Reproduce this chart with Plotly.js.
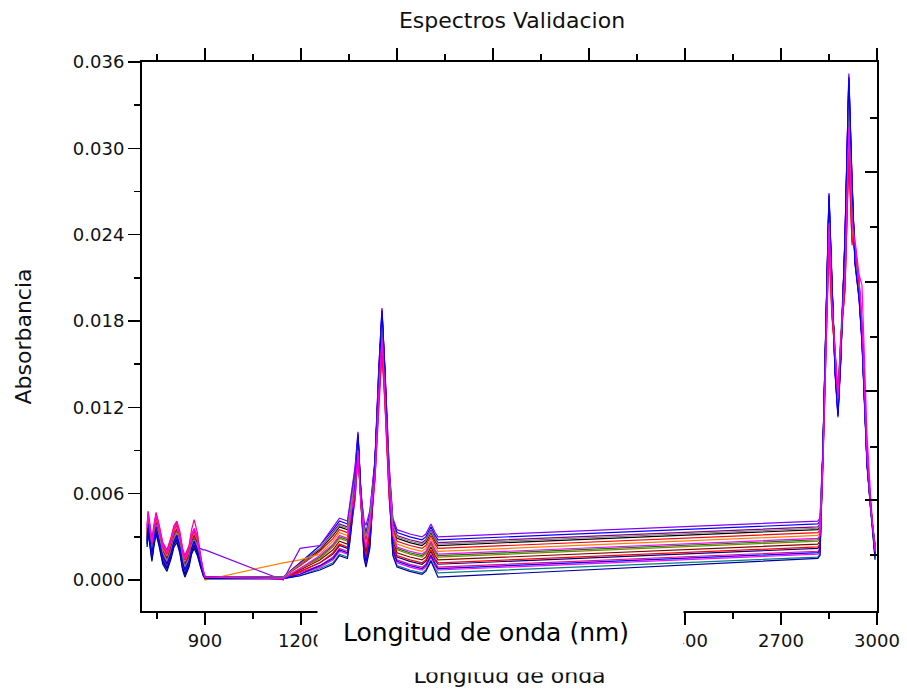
<!DOCTYPE html>
<html>
<head>
<meta charset="utf-8">
<script src="https://cdn.plot.ly/plotly-3.0.1.min.js"></script>
<style>html,body{margin:0;padding:0;background:#fff;}#chart{width:907px;height:693px;}</style>
</head>
<body>
<div id="chart"></div>
<script>
// Wavelength (nm) sample positions shared by every spectrum
const wavelength = [719,722,727,734,740,747,756,768,781,794,803,812,821,830,837,850,858,866,876,886,894,900,
  1144,1197,1259,1300,1320,1345,1353,1369,1378,1387,1397,1403,1415,1431,1443,1453,1462,1475,1487,1500,1540,1578,1590,1606,1619,1628,
  2815,2822,2831,2840,2850,2859,2869,2878,2887,2900,2912,2922,2931,2944,2953,2969,2981,2994];

// Absorbance values in units of 1e-4
const s01 = [30,40,32,20,30,39,31,18,13,22,30,33,26,14,9,16,25,29,24,12,5,2,
  2,11,21,31,37,35,47,73,98,59,35,29,42,80,142,182,142,75,37,29,26,24,26,33,27,24,
  35,37,88,178,258,201,152,122,162,224,330,261,225,200,170,82,48,22];
const s02 = [33,43,35,23,33,42,34,21,16,25,33,36,29,17,12,19,28,32,27,14,6,2,
  2,10,20,29,35,33,45,67,92,55,33,27,40,70,125,160,125,65,35,27,24,22,24,31,25,22,
  33,35,82,166,240,187,155,125,165,204,300,237,230,205,175,86,50,20];
const s03 = [28,38,30,18,28,37,29,16,11,20,28,31,24,12,7,14,23,27,22,11,5,2,
  1,8,16,24,30,28,40,67,95,57,28,22,35,77,137,175,137,68,30,22,19,17,19,26,20,17,
  28,30,87,176,255,199,148,118,158,228,335,265,230,205,175,84,49,18];
const s04 = [26,36,28,16,26,35,27,14,9,18,26,29,22,10,5,12,21,25,20,10,4,2,
  2,12,24,35,41,39,51,77,102,61,39,33,46,83,147,188,147,79,41,33,30,28,30,37,31,28,
  39,41,91,185,268,209,145,115,155,238,350,277,220,195,165,79,47,24];
const s05 = [24,34,26,14,24,33,25,12,7,16,24,27,20,8,3,10,19,23,18,9,4,1,
  1,3,8,12,18,16,28,57,90,54,16,10,23,78,139,178,139,63,18,10,7,5,7,14,8,5,
  16,18,89,181,262,204,158,128,168,230,338,267,225,200,170,82,46,15];
const s06 = [37,47,39,27,37,46,38,25,20,29,37,40,33,21,16,23,32,36,31,16,7,2,
  1,4,9,14,20,18,30,57,88,53,18,12,25,75,133,170,133,61,20,12,9,7,9,16,10,7,
  18,20,85,173,250,195,155,125,165,218,320,253,237,212,205,100,55,17];
const s07 = [31,41,33,21,31,40,32,19,14,23,31,34,27,15,10,17,26,30,25,12,5,2,
  1,8,15,23,29,27,39,66,94,56,27,21,34,77,137,176,137,69,29,21,18,16,18,25,19,16,
  27,29,86,175,254,198,150,120,160,223,328,259,228,203,173,83,49,19];
const s08 = [25,35,27,15,25,34,26,13,8,17,25,28,21,9,4,11,20,24,19,10,4,1,
  1,6,12,18,24,22,34,67,100,60,22,16,29,82,145,186,145,70,24,16,13,11,13,20,14,11,
  22,24,90,184,266,207,147,117,157,237,348,275,223,198,168,81,48,21];
const s09 = [32,42,34,22,32,41,33,20,15,24,32,35,28,16,11,18,27,31,26,13,6,2,
  2,12,22,33,39,37,49,73,97,58,37,31,44,79,140,180,140,75,39,31,28,26,28,35,29,26,
  37,39,88,179,260,203,151,121,161,231,340,269,227,202,172,83,48,23];
const s10 = [29,39,31,19,29,38,30,17,12,21,29,32,25,13,8,15,24,28,23,12,5,2,
  1,7,14,21,27,25,37,63,93,56,25,19,32,77,136,174,136,66,27,19,16,14,16,23,17,14,
  25,27,86,174,252,197,153,123,163,222,326,258,229,204,174,84,49,18];
const s11 = [34,44,36,24,34,43,35,22,17,26,34,37,30,18,13,20,29,33,28,14,6,0,
  12,14,18,27,33,31,43,66,91,55,31,25,38,73,129,165,129,66,33,25,22,20,22,29,23,20,
  31,33,83,169,245,191,154,124,164,211,310,245,231,206,176,85,50,20];
const s12 = [27,37,29,17,27,36,28,15,10,19,27,30,23,11,6,13,22,26,21,22,21,21,
  0,22,24,37,43,41,53,79,103,62,41,38,48,83,147,189,147,81,43,35,32,30,32,39,33,30,
  41,43,91,186,269,210,143,113,153,239,352,278,222,197,167,80,47,25];
const s13 = [38,48,40,28,38,47,39,26,21,30,38,41,34,22,17,24,35,42,33,16,7,2,
  1,5,10,16,22,20,32,57,87,52,20,14,27,70,123,158,123,58,22,14,11,9,11,18,12,9,
  20,22,80,162,235,183,160,130,170,201,295,233,233,208,178,86,51,16];
const s14 = [23,33,25,13,23,32,24,11,6,15,23,26,19,7,2,9,18,22,17,9,3,1,
  1,3,7,11,17,15,27,63,99,59,15,9,22,81,144,184,144,66,17,9,6,4,6,13,6,2,
  15,17,90,182,264,206,146,116,156,234,344,272,224,199,169,81,47,14];
const s15 = [31,39,33,21,29,38,31,19,13,21,29,33,27,15,9,15,24,28,24,12,5,2,
  2,11,22,32,38,36,48,71,96,58,36,30,43,79,140,179,140,74,38,30,27,25,27,34,28,25,
  36,38,87,177,257,200,149,119,159,226,332,262,226,201,171,82,48,22];
const s16 = [35,45,37,25,35,44,36,23,18,27,35,38,31,19,14,21,30,34,29,15,6,2,
  1,6,12,19,25,23,35,60,89,53,23,17,30,71,126,162,126,61,25,17,14,12,14,21,15,12,
  23,25,81,164,238,186,157,127,167,203,298,235,232,207,177,85,50,19];
const s17 = [27,39,29,19,27,37,28,16,11,19,27,31,23,12,7,13,22,27,21,11,5,2,
  1,4,10,15,21,19,31,67,101,61,19,13,26,82,146,187,146,69,21,13,10,8,10,17,11,8,
  19,21,91,184,267,208,144,114,154,237,349,276,221,196,166,80,47,17];
const s18 = [36,46,38,26,36,45,37,24,19,28,36,39,32,20,15,22,31,35,30,15,7,2,
  1,8,17,25,31,29,41,63,90,54,29,23,36,74,131,168,131,66,31,23,20,18,20,27,21,18,
  29,31,84,171,248,193,156,126,166,214,315,249,234,209,179,86,50,20];

const spectra = [s01,s02,s03,s04,s05,s06,s07,s08,s09,s10,s11,s12,s13,s14,s15,s16,s17,s18];
const seriesColors = ['#000000','#FF0000','#008000','#0000FF','#008080','#FF00FF','#808000','#000080','#800080',
  '#800000','#FF8000','#8000FF','#FF0080','#0000A0','#808080','#FF0000','#0000FF','#FF00FF'];

// bottom-axis ticks; 1500-2100 labels are hidden by the white label box in the reference
const xTickVals = [900,1200,1500,1800,2100,2400,2700,3000];
const xTickText = ['900','1200','','','','2400','2700','3000'];
const yTickVals = [0,0.006,0.012,0.018,0.024,0.030,0.036];

const FONT = 'DejaVu Sans, Liberation Sans, Arial, sans-serif';

const traces = spectra.map((s, i) => ({
  type: 'scatter', mode: 'lines',
  x: wavelength,
  y: s.map(v => v / 10000),
  line: {color: seriesColors[i], width: 1.2},
  showlegend: false, hoverinfo: 'skip'
}));
// empty trace that carries the right-hand frame axis
traces.push({type:'scatter', mode:'lines', x:[], y:[], xaxis:'x', yaxis:'y2', showlegend:false, hoverinfo:'skip'});

const layout = {
  width: 907, height: 693,
  margin: {l: 142, r: 30, t: 62, b: 82, pad: 0},
  paper_bgcolor: '#fff', plot_bgcolor: '#fff',
  showlegend: false,
  title: {text: 'Espectros Validacion', font: {family: FONT, size: 22, color: '#111'},
    xref: 'container', x: 512/907, xanchor: 'center', yref: 'container', y: 1 - 20/693, yanchor: 'middle'},
  xaxis: {
    range: [703, 3000], tickmode: 'array', tickvals: xTickVals, ticktext: xTickText,
    ticks: 'outside', ticklen: 12, tickwidth: 1.5, tickcolor: '#000',
    showline: true, linecolor: '#000', linewidth: 2, mirror: 'ticks',
    showgrid: false, zeroline: false,
    minor: {ticks: 'outside', ticklen: 6, tickwidth: 1.5, tickcolor: '#000', dtick: 300, tick0: 750, showgrid: false},
    tickfont: {family: FONT, size: 18, color: '#111'},
    title: {text: 'Longitud de onda', font: {family: FONT, size: 22, color: '#111'}, standoff: 18}
  },
  yaxis: {
    range: [-0.00215, 0.036], tickmode: 'array', tickvals: yTickVals, tickformat: '.3f',
    ticks: 'outside', ticklen: 12, tickwidth: 1.5, tickcolor: '#000',
    showline: true, linecolor: '#000', linewidth: 2, mirror: false,
    showgrid: false, zeroline: false,
    minor: {ticks: 'outside', ticklen: 6, tickwidth: 1.5, tickcolor: '#000', dtick: 0.006, tick0: 0.003, showgrid: false},
    tickfont: {family: FONT, size: 18, color: '#111'},
    title: {text: 'Absorbancia', font: {family: FONT, size: 22, color: '#111'}, standoff: 35}
  },
  yaxis2: {
    overlaying: 'y', side: 'right', range: [0, 549],
    tickmode: 'array', tickvals: [111, 220, 329, 439], showticklabels: false,
    ticks: 'inside', ticklen: 12, tickwidth: 1.5, tickcolor: '#000',
    showline: true, linecolor: '#000', linewidth: 2,
    showgrid: false, zeroline: false,
    minor: {tickmode: 'array', tickvals: [56, 164, 274, 384, 493], ticks: 'inside', ticklen: 7, tickwidth: 1.5, tickcolor: '#000', showgrid: false}
  },
  annotations: [
    {xref: 'paper', yref: 'paper', x: (500 - 142) / 735, y: -(636 - 611) / 549, xanchor: 'center', yanchor: 'middle',
     text: ' ', showarrow: false, width: 365, height: 72, bgcolor: '#ffffff', borderpad: 0},
    {xref: 'paper', yref: 'paper', x: (486 - 142) / 735, y: -(632 - 611) / 549, xanchor: 'center', yanchor: 'middle',
     text: 'Longitud de onda (nm)', showarrow: false, font: {family: FONT, size: 25, color: '#000'}}
  ]
};

Plotly.newPlot('chart', traces, layout, {displayModeBar: false, staticPlot: true});
</script>
</body>
</html>
